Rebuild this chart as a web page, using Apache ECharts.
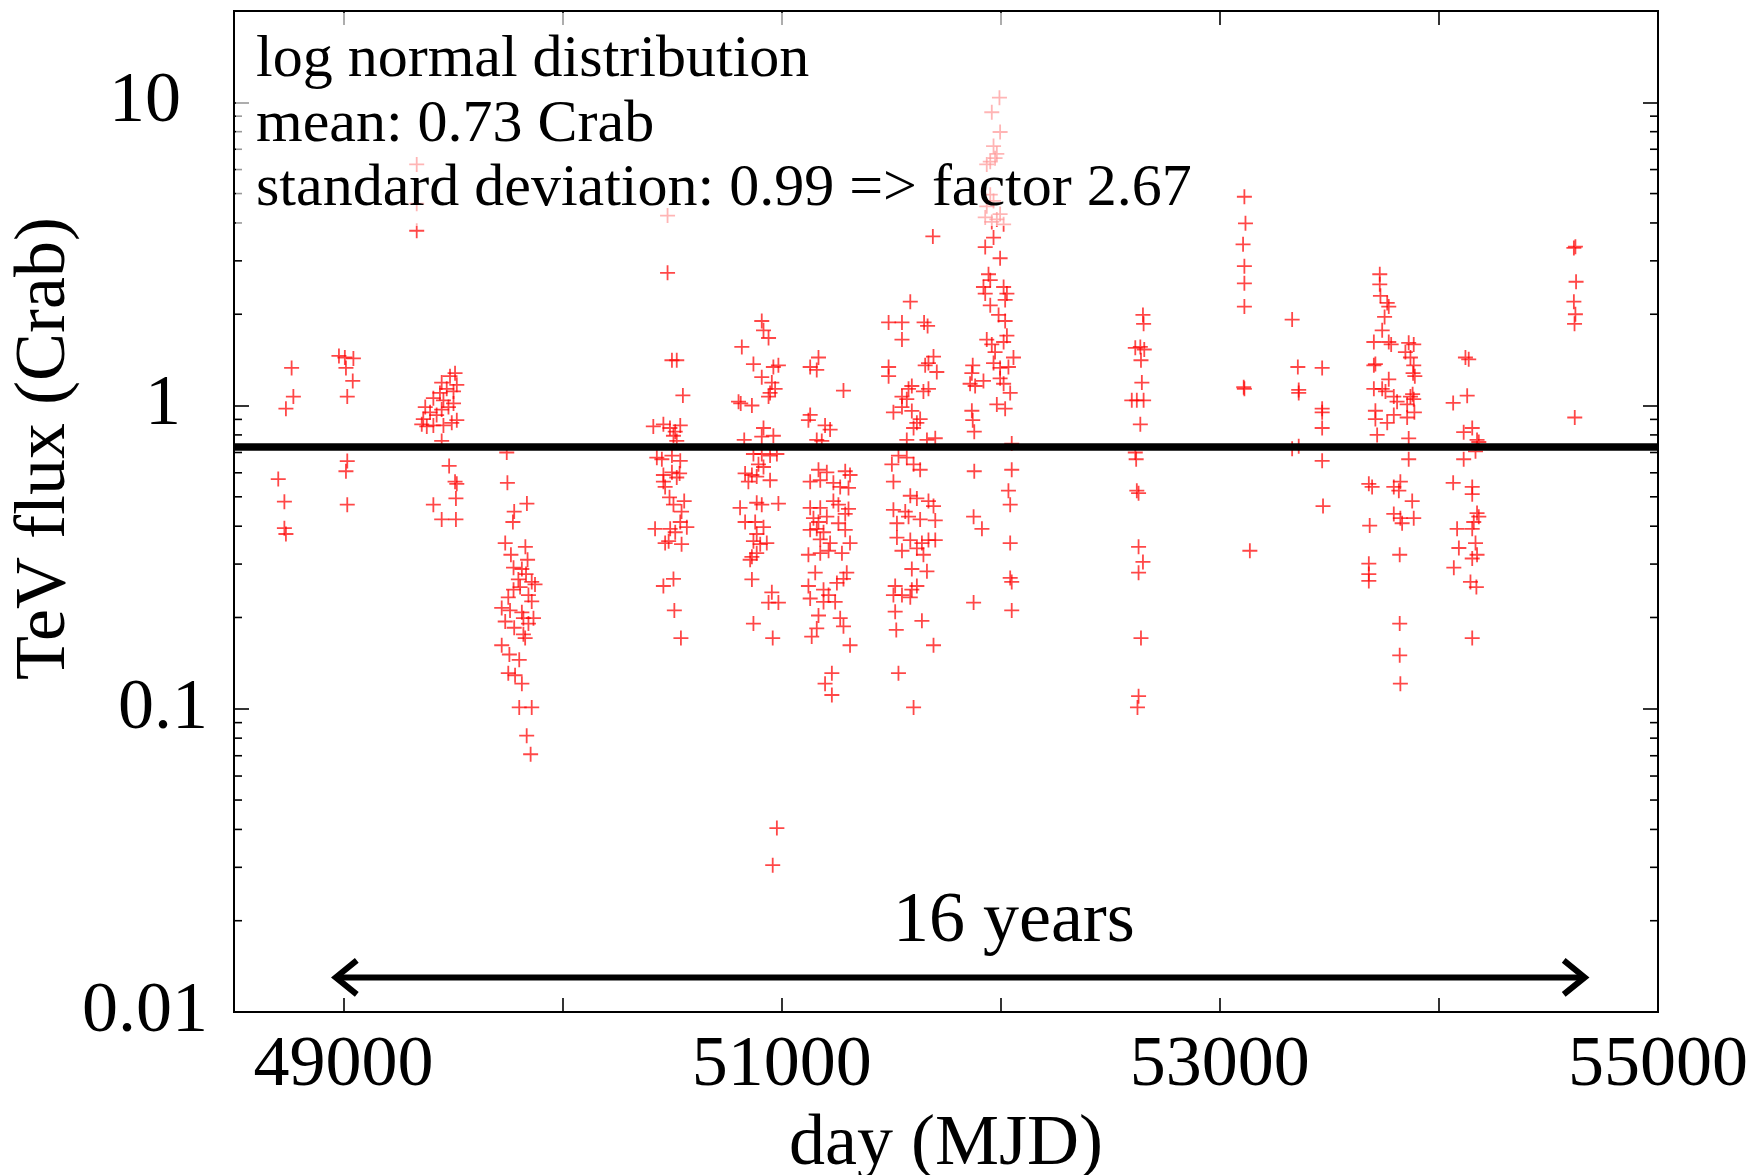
<!DOCTYPE html>
<html><head><meta charset="utf-8">
<script src="https://cdn.jsdelivr.net/npm/echarts@6/dist/echarts.min.js"></script>
<style>html,body{margin:0;padding:0;background:#fff}#chart{width:1748px;height:1175px}</style>
</head><body><div id="chart"></div>
<script>
const FONT = 'Liberation Serif';
const xMin = 48500, xMax = 55000;
const yMin = 0.01, yMax = 20;
const xTickValues = [49000, 50000, 51000, 52000, 53000, 54000];
const xLabelValues = [49000, 51000, 53000, 55000];
const yMinorValues = [0.02,0.03,0.04,0.05,0.06,0.07,0.08,0.09,0.2,0.3,0.4,0.5,0.6,0.7,0.8,0.9,2,3,4,5,6,7,8,9];
const meanFlux = 0.73;
const arrowSpan = [48960, 54670];
const arrowFlux = 0.013;
const arrowLabel = '16 years';
const arrowLabelMJD = 52060;
const annotationLines = ['log normal distribution', 'mean: 0.73 Crab', 'standard deviation: 0.99 => factor 2.67'];
const xName = 'day (MJD)';
const yName = 'TeV flux (Crab)';

// observations [MJD, flux in Crab units]
const c48700 = [[48763,1.33],[48771,1.07],[48737,0.976],[48702,0.572],[48730,0.482],[48730,0.394],[48737,0.377]];
const c49000 = [[48979,1.457],[49006,1.44],[49045,1.43],[49011,1.33],[49042,1.205],[49017,1.07],[49017,0.656],[49011,0.607],[49017,0.471]];
const c49400 = [[49334,6.24],[49334,4.63],[49334,3.77],[49509,1.278],[49486,1.25],[49448,1.19],[49471,1.135],[49502,1.113],[49517,1.17],[49440,1.10],[49410,1.057],[49456,1.04],[49502,1.016],[49479,0.988],[49373,0.988],[49395,0.95],[49425,0.93],[49448,0.97],[49364,0.902],[49357,0.867],[49380,0.853],[49410,0.86],[49456,0.86],[49494,0.877],[49517,0.895],[49448,0.764],[49482,0.632],[49509,0.561],[49517,0.552],[49513,0.494],[49410,0.471],[49448,0.421],[49513,0.421]];
const c49800 = [[49745,0.70],[49748,0.556],[49837,0.475],[49779,0.447],[49773,0.413],[49738,0.352],[49764,0.322],[49830,0.342],[49840,0.31],[49776,0.292],[49814,0.289],[49833,0.278],[49859,0.262],[49874,0.257],[49806,0.252],[49776,0.247],[49844,0.237],[49859,0.226],[49752,0.233],[49722,0.215],[49760,0.211],[49814,0.208],[49867,0.199],[49738,0.194],[49779,0.185],[49844,0.191],[49821,0.176],[49829,0.171],[49722,0.162],[49757,0.151],[49802,0.145],[49752,0.131],[49783,0.129],[49814,0.121],[49802,0.101],[49859,0.101],[49836,0.0815],[49854,0.0708],[49821,0.199],[49798,0.267]];
const c50500 = [[50479,4.23],[50479,2.74],[50499,1.41],[50521,1.41],[50549,1.08],[50414,0.853],[50460,0.867],[50490,0.843],[50514,0.82],[50537,0.86],[50506,0.795],[50521,0.764],[50430,0.673],[50453,0.665],[50499,0.684],[50537,0.657],[50460,0.59],[50499,0.602],[50521,0.579],[50534,0.597],[50460,0.561],[50468,0.539],[50488,0.498],[50506,0.471],[50555,0.484],[50543,0.447],[50537,0.413],[50567,0.397],[50422,0.392],[50491,0.392],[50514,0.382],[50468,0.352],[50484,0.357],[50543,0.349],[50506,0.268],[50460,0.254],[50510,0.211],[50540,0.171]];
const c50900 = [[50909,1.9],[50917,1.77],[50940,1.67],[50818,1.56],[50871,1.37],[50909,1.24],[50962,1.34],[50985,1.357],[50955,1.19],[50970,1.135],[50940,1.07],[50947,1.10],[50803,1.03],[50813,1.016],[50864,1.0],[50917,0.843],[50962,0.795],[50909,0.79],[50829,0.77],[50871,0.692],[50909,0.692],[50947,0.684],[50978,0.692],[50894,0.64],[50917,0.627],[50833,0.597],[50864,0.59],[50886,0.583],[50947,0.567],[50848,0.561],[50810,0.46],[50886,0.478],[50909,0.471],[50985,0.475],[50833,0.413],[50879,0.413],[50917,0.397],[50886,0.377],[50871,0.357],[50932,0.352],[50902,0.349],[50864,0.317],[50856,0.31],[50886,0.326],[50864,0.267],[50955,0.242],[50940,0.224],[50985,0.224],[50871,0.191],[50959,0.171],[50978,0.0404],[50959,0.0305]];
const c51200 = [[51168,1.44],[51130,1.34],[51160,1.31],[51282,1.12],[51130,0.931],[51122,0.895],[51198,0.86],[51221,0.833],[51160,0.77],[51183,0.764],[51168,0.614],[51206,0.602],[51290,0.607],[51312,0.59],[51130,0.561],[51176,0.567],[51236,0.556],[51267,0.539],[51305,0.535],[51236,0.484],[51259,0.471],[51130,0.46],[51176,0.46],[51305,0.456],[51290,0.439],[51145,0.425],[51168,0.413],[51206,0.43],[51259,0.409],[51160,0.392],[51130,0.389],[51191,0.382],[51290,0.389],[51176,0.362],[51221,0.352],[51312,0.352],[51122,0.322],[51176,0.326],[51214,0.332],[51275,0.326],[51153,0.281],[51297,0.281],[51252,0.26],[51282,0.268],[51122,0.254],[51191,0.247],[51214,0.237],[51130,0.231],[51191,0.225],[51244,0.225],[51168,0.203],[51267,0.199],[51282,0.187],[51160,0.184],[51137,0.173],[51312,0.162],[51229,0.131],[51198,0.121],[51229,0.111]];
const c51600 = [[51690,3.61],[51587,2.2],[51488,1.88],[51549,1.88],[51650,1.88],[51666,1.83],[51549,1.65],[51693,1.45],[51488,1.34],[51488,1.25],[51670,1.38],[51655,1.357],[51708,1.29],[51579,1.135],[51594,1.16],[51647,1.113],[51670,1.135],[51549,1.07],[51571,1.049],[51510,0.95],[51549,0.988],[51594,0.96],[51632,0.902],[51617,0.877],[51602,0.843],[51571,0.77],[51663,0.77],[51701,0.78],[51533,0.684],[51571,0.673],[51602,0.64],[51632,0.614],[51503,0.64],[51510,0.561],[51587,0.504],[51617,0.494],[51670,0.484],[51693,0.466],[51510,0.453],[51564,0.447],[51579,0.43],[51632,0.421],[51701,0.418],[51526,0.409],[51526,0.367],[51587,0.36],[51640,0.352],[51670,0.36],[51701,0.36],[51549,0.332],[51617,0.338],[51647,0.322],[51594,0.289],[51663,0.284],[51518,0.254],[51617,0.254],[51594,0.247],[51510,0.237],[51549,0.237],[51587,0.233],[51518,0.209],[51523,0.182],[51640,0.195],[51693,0.162],[51533,0.131],[51602,0.101]];
const c51950 = [[51994,10.36],[51959,9.27],[51997,7.98],[51967,7.17],[51982,6.76],[51952,6.37],[51936,6.24],[51974,6.54],[51952,4.96],[51967,4.73],[51936,4.54],[51997,4.28],[51929,4.17],[51959,4.03],[52013,3.96],[51982,4.11],[51967,3.58],[51929,3.33],[51997,3.06],[51944,2.71],[51952,2.59],[51921,2.46],[51929,2.34],[52013,2.46],[52028,2.34],[52020,2.23],[51952,2.14],[51990,1.99],[52020,1.9],[51936,1.65],[51959,1.59],[52028,1.70],[52013,1.62],[51974,1.5],[52058,1.44],[51967,1.38],[51997,1.33],[52035,1.34],[51872,1.357],[51868,1.278],[51860,1.18],[51883,1.16],[51921,1.205],[51997,1.229],[52013,1.18],[52043,1.10],[51982,1.008],[52020,0.976],[51868,0.961],[51872,0.895],[51879,0.82],[52050,0.749],[51879,0.607],[52050,0.614],[52035,0.524],[52043,0.471],[51876,0.43],[51914,0.392],[52043,0.352],[52043,0.27],[52050,0.262],[51876,0.224],[52050,0.211]];
const c52620 = [[52649,1.99],[52652,1.86],[52637,1.56],[52614,1.55],[52655,1.53],[52640,1.41],[52644,1.19],[52621,1.04],[52598,1.04],[52652,1.04],[52637,0.867],[52614,0.70],[52618,0.665],[52621,0.524],[52629,0.514],[52629,0.342],[52649,0.305],[52629,0.281],[52640,0.171],[52629,0.11],[52624,0.101]];
const c53110 = [[53112,4.88],[53117,3.99],[53106,3.40],[53112,2.88],[53112,2.53],[53112,2.12],[53109,1.149],[53112,1.135],[53137,0.332]];
const c53400 = [[53330,1.92],[53356,1.34],[53360,1.126],[53360,1.10],[53330,0.72],[53360,0.734],[53467,1.33],[53467,0.976],[53467,0.95],[53467,0.843],[53467,0.657],[53471,0.466]];
const c53780 = [[53730,2.71],[53730,2.51],[53733,2.3],[53764,2.18],[53771,2.12],[53752,1.96],[53741,1.77],[53703,1.62],[53771,1.62],[53782,1.59],[53862,1.61],[53885,1.59],[53847,1.5],[53870,1.44],[53885,1.357],[53710,1.37],[53703,1.357],[53882,1.278],[53771,1.22],[53703,1.135],[53741,1.135],[53756,1.113],[53794,1.07],[53809,1.03],[53870,1.07],[53885,1.049],[53855,1.008],[53710,0.961],[53710,0.902],[53764,0.877],[53794,0.931],[53855,0.913],[53718,0.80],[53862,0.779],[53862,0.665],[53680,0.552],[53695,0.539],[53794,0.539],[53824,0.561],[53817,0.524],[53878,0.484],[53794,0.439],[53824,0.425],[53885,0.425],[53832,0.409],[53684,0.402],[53821,0.322],[53680,0.301],[53680,0.278],[53680,0.264],[53821,0.191],[53821,0.15],[53824,0.121],[53890,1.25],[53880,1.09],[53888,0.95]];
const c54150 = [[54121,1.44],[54136,1.42],[54129,1.078],[54065,1.02],[54152,0.843],[54113,0.817],[54174,0.77],[54182,0.758],[54167,0.706],[54113,0.665],[54065,0.556],[54152,0.539],[54152,0.51],[54174,0.442],[54182,0.43],[54159,0.413],[54083,0.392],[54152,0.392],[54091,0.339],[54167,0.352],[54174,0.322],[54152,0.313],[54068,0.292],[54144,0.262],[54171,0.252],[54152,0.171]];
const c54620 = [[54623,3.34],[54616,3.31],[54626,2.56],[54616,2.2],[54623,2.0],[54619,1.86],[54620,0.913]];

const observations = [].concat(c48700, c49000, c49400, c49800, c50500, c50900, c51200, c51600, c51950, c52620, c53110, c53400, c53780, c54150, c54620);

const PLUS = 'path://M0,44H100V56H0Z M44,0H56V100H44Z';
const tickStyle = {color:'#000', width:1.6};
const labelFont = {fontSize:72, fontFamily:FONT, color:'#000'};

function logLabel(v){
  const l = Math.log10(v);
  if (Math.abs(l - Math.round(l)) > 1e-6) return '';
  const e = Math.round(l);
  return e >= 0 ? '{big|' + String(Math.round(v)) + '}' : '{small|' + v.toFixed(-e) + '}';
}

const chart = echarts.init(document.getElementById('chart'), null, {renderer:'canvas'});
chart.setOption({
  animation: false,
  backgroundColor: '#fff',
  grid: {left:234, right:90, top:11, bottom:163, containLabel:false, outerBoundsMode:'none',
         show:true, borderColor:'#000', borderWidth:2, backgroundColor:'transparent'},
  xAxis: [
    {type:'value', min:xMin, max:xMax, position:'bottom',
     axisLine:{show:false}, splitLine:{show:false},
     axisTick:{show:true, inside:true, length:14, customValues:xTickValues, lineStyle:tickStyle},
     axisLabel:Object.assign({customValues:xLabelValues, margin:18, formatter:v=>String(v)}, labelFont),
     name:xName, nameLocation:'middle', nameGap:97, nameMoveOverlap:false, nameTextStyle:labelFont},
    {type:'value', min:xMin, max:xMax, position:'top',
     axisLine:{show:false}, splitLine:{show:false},
     axisTick:{show:true, inside:true, length:14, customValues:xTickValues, lineStyle:tickStyle},
     axisLabel:{show:false}}
  ],
  yAxis: [
    {type:'log', logBase:10, min:yMin, max:yMax, position:'left',
     axisLine:{show:false}, splitLine:{show:false},
     axisTick:{show:true, inside:true, length:15, lineStyle:tickStyle},
     axisLabel:Object.assign({margin:26, formatter:logLabel, showMaxLabel:false,
       rich:{big:Object.assign({padding:[0,27,0,0]}, labelFont), small:Object.assign({}, labelFont)}}, labelFont),
     name:yName, nameLocation:'middle', nameGap:153, nameRotate:90, nameMoveOverlap:false,
     nameTextStyle:Object.assign({padding:[0,0,0,126]}, labelFont)},
    {type:'log', logBase:10, min:yMin, max:yMax, position:'right',
     axisLine:{show:false}, splitLine:{show:false},
     axisTick:{show:true, inside:true, length:15, lineStyle:tickStyle},
     axisLabel:{show:false}}
  ],
  series: [
    {type:'scatter', data:observations, symbol:PLUS, symbolSize:15, symbolKeepAspect:true,
     itemStyle:{color:'rgba(255,0,0,0.9)'}, z:2, silent:true},
    {type:'line', data:[[xMin, meanFlux],[xMax, meanFlux]], symbol:'none',
     lineStyle:{color:'#000', width:7.5}, z:4, silent:true},
    {type:'custom', silent:true, z:3,
     data: yMinorValues.map(v=>[xMin, v]),
     renderItem:(params, api)=>{
       const p = api.coord([xMin, api.value(1)]);
       const cs = params.coordSys;
       return {type:'group', children:[
         {type:'line', shape:{x1:cs.x, y1:p[1], x2:cs.x+8, y2:p[1]}, style:{stroke:'#000', lineWidth:1.6}},
         {type:'line', shape:{x1:cs.x+cs.width-8, y1:p[1], x2:cs.x+cs.width, y2:p[1]}, style:{stroke:'#000', lineWidth:1.6}}
       ]};
     }},
    {type:'custom', silent:true, z:5,
     data:[[arrowSpan[0], arrowFlux, arrowSpan[1], arrowLabelMJD]],
     renderItem:(params, api)=>{
       const p1 = api.coord([api.value(0), api.value(1)]);
       const p2 = api.coord([api.value(2), api.value(1)]);
       const pl = api.coord([api.value(3), api.value(1)]);
       const y = p1[1];
       const st = {stroke:'#000', lineWidth:6, fill:null, lineJoin:'miter', lineCap:'butt'};
       return {type:'group', children:[
         {type:'line', shape:{x1:p1[0]+3, y1:y, x2:p2[0]-3, y2:y}, style:st},
         {type:'polyline', shape:{points:[[p1[0]+22,y-17],[p1[0]+1,y],[p1[0]+22,y+17]]}, style:st},
         {type:'polyline', shape:{points:[[p2[0]-22,y-17],[p2[0]-1,y],[p2[0]-22,y+17]]}, style:st},
         {type:'text', x:pl[0], y:y-55, style:{text:arrowLabel, fontSize:72, fontFamily:FONT, fill:'#000', align:'center', verticalAlign:'middle'}}
       ]};
     }}
  ],
  graphic: [
    {type:'rect', z:100, silent:true, shape:{x:236, y:13, width:954, height:213}, style:{fill:'rgba(255,255,255,0.6)'}},
    {type:'text', z:101, x:256, y:60, style:{text:annotationLines[0], fontSize:60, fontFamily:FONT, fill:'#000', verticalAlign:'middle'}},
    {type:'text', z:101, x:256, y:125, style:{text:annotationLines[1], fontSize:60, fontFamily:FONT, fill:'#000', verticalAlign:'middle'}},
    {type:'text', z:101, x:256, y:189, style:{text:annotationLines[2], fontSize:60, fontFamily:FONT, fill:'#000', verticalAlign:'middle'}}
  ]
});
</script></body></html>
